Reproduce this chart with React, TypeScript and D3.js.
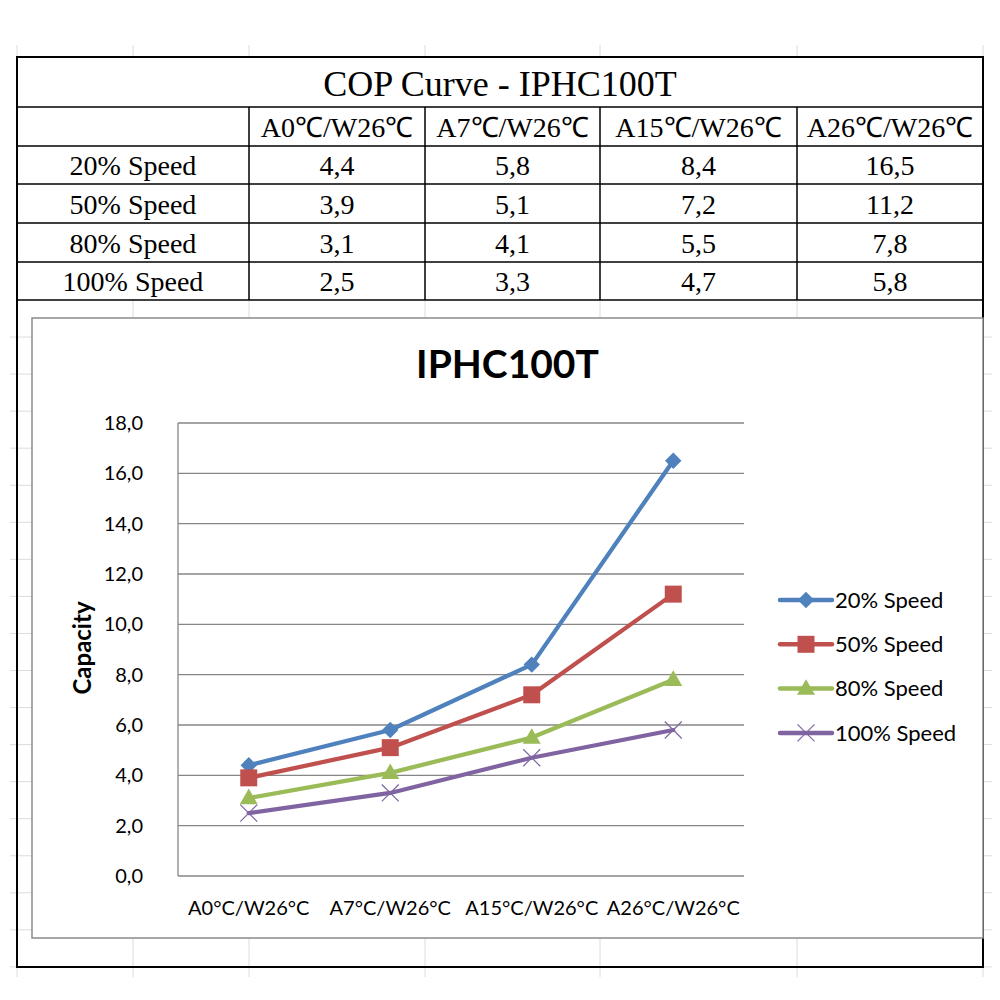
import React from 'react';
import * as d3 from 'd3';

const categories = ['A0°C/W26°C', 'A7°C/W26°C', 'A15°C/W26°C', 'A26°C/W26°C'];
const tableHeaders = ['A0℃/W26℃', 'A7℃/W26℃', 'A15℃/W26℃', 'A26℃/W26℃'];
const seriesNames = ['20% Speed', '50% Speed', '80% Speed', '100% Speed'];
const speed20 = [4.4, 5.8, 8.4, 16.5];
const speed50 = [3.9, 5.1, 7.2, 11.2];
const speed80 = [3.1, 4.1, 5.5, 7.8];
const speed100 = [2.5, 3.3, 4.7, 5.8];
const yTicks = [0, 2, 4, 6, 8, 10, 12, 14, 16, 18];

const seriesValues = [speed20, speed50, speed80, speed100];
const colors = ['#4F81BD', '#C0504D', '#9BBB59', '#8064A2'];
const markers = ['diamond', 'square', 'triangle', 'x'];

const fmt = (v: number) => v.toFixed(1).replace('.', ',');

// spreadsheet layout
const colX = [17, 249, 425, 600, 797, 983];
const rowY = [57, 107, 146, 184, 223, 262, 300];
const sheetCols = [17, 133, 249, 425, 600, 797, 983];
const sheetRows = d3.range(1, 19).map(k => 300 + k * 37.05);

const chartBox = { x: 32, y: 318, w: 951, h: 620 };
const plot = { left: 178, right: 744, top: 423, bottom: 876 };

const serif = "'Liberation Serif', 'Times New Roman', serif";
const sans = "Lato, 'Open Sans', sans-serif";

const Marker: React.FC<{ kind: string; color: string; x: number; y: number }> = ({ kind, color, x, y }) => {
  if (kind === 'diamond') {
    return <path d={d3.symbol(d3.symbolSquare, 135)()!} transform={`translate(${x},${y}) rotate(45)`} fill={color} />;
  }
  if (kind === 'square') {
    return <path d={d3.symbol(d3.symbolSquare, 289)()!} transform={`translate(${x},${y})`} fill={color} />;
  }
  if (kind === 'triangle') {
    return <path d={d3.symbol(d3.symbolTriangle, 140)()!} transform={`translate(${x},${y + 1})`} fill={color} />;
  }
  return <path d={d3.symbol(d3.symbolX, 190)()!} transform={`translate(${x},${y})`} fill="none" stroke={color} strokeWidth={1.2} />;
};

const App: React.FC = () => {
  const x = d3.scaleBand().domain(categories).range([plot.left, plot.right]);
  const y = d3.scaleLinear().domain([0, 18]).range([plot.bottom, plot.top]);
  const cx = (i: number) => x(categories[i])! + x.bandwidth() / 2;

  const line = d3.line<number>()
    .x((_, i) => cx(i))
    .y(d => y(d));

  return (
    <svg width={1000} height={1000} style={{ position: 'absolute', left: 0, top: 0, background: '#fff' }}>
      {/* faint sheet gridlines */}
      <g stroke="#dcdcdc" strokeWidth={1}>
        {sheetCols.map(c => <line key={'c' + c} x1={c} x2={c} y1={45} y2={977} />)}
        {sheetRows.map(r => <line key={'r' + r} x1={10} x2={992} y1={r} y2={r} />)}
      </g>

      {/* table */}
      <rect x={colX[0]} y={rowY[0]} width={colX[5] - colX[0]} height={rowY[6] - rowY[0]} fill="#fff" />
      <g stroke="#000" strokeWidth={1.5}>
        {rowY.slice(1).map(r => <line key={'h' + r} x1={colX[0]} x2={colX[5]} y1={r} y2={r} />)}
        {colX.slice(1, 5).map(c => <line key={'v' + c} x1={c} x2={c} y1={rowY[1]} y2={rowY[6]} />)}
      </g>
      <text x={(colX[0] + colX[5]) / 2} y={96} textAnchor="middle" fontFamily={serif} fontSize={36}>COP Curve - IPHC100T</text>
      <g fontFamily={serif} fontSize={28} textAnchor="middle">
        {tableHeaders.map((h, i) => (
          <text key={h} x={(colX[i + 1] + colX[i + 2]) / 2} y={137}>{h}</text>
        ))}
        {seriesNames.map((s, r) => (
          <g key={s}>
            <text x={(colX[0] + colX[1]) / 2} y={(rowY[r + 2] + rowY[r + 3]) / 2 + 10}>{s}</text>
            {seriesValues[r].map((v, i) => (
              <text key={i} x={(colX[i + 1] + colX[i + 2]) / 2} y={(rowY[r + 2] + rowY[r + 3]) / 2 + 10}>{fmt(v)}</text>
            ))}
          </g>
        ))}
      </g>
      <rect x={colX[0]} y={rowY[0]} width={colX[5] - colX[0]} height={967 - rowY[0]} fill="none" stroke="#000" strokeWidth={2} />

      {/* chart */}
      <rect x={chartBox.x} y={chartBox.y} width={chartBox.w} height={chartBox.h} fill="#fff" stroke="#8a8a8a" strokeWidth={1.5} />
      <text x={chartBox.x + chartBox.w / 2} y={378} textAnchor="middle" fontFamily={sans} fontWeight="bold" fontSize={39}>IPHC100T</text>

      <g stroke="#868686" strokeWidth={1.3}>
        {yTicks.map(t => <line key={t} x1={plot.left} x2={plot.right} y1={y(t)} y2={y(t)} />)}
        <line x1={plot.left} x2={plot.left} y1={plot.top} y2={plot.bottom} />
      </g>
      <g fontFamily={sans} fontSize={20} textAnchor="end">
        {yTicks.map(t => <text key={t} x={143} y={y(t)} dy="0.35em">{fmt(t)}</text>)}
      </g>
      <g fontFamily={sans} fontSize={20} textAnchor="middle">
        {categories.map((c, i) => <text key={c} x={cx(i)} y={915}>{c}</text>)}
      </g>
      <text transform="translate(83,648) rotate(-90)" textAnchor="middle" dy="0.35em" fontFamily={sans} fontWeight="bold" fontSize={24}>Capacity</text>

      {seriesValues.map((vals, s) => (
        <g key={s}>
          <path d={line(vals)!} fill="none" stroke={colors[s]} strokeWidth={4.25} strokeLinejoin="round" strokeLinecap="round" />
          {vals.map((v, i) => <Marker key={i} kind={markers[s]} color={colors[s]} x={cx(i)} y={y(v)} />)}
        </g>
      ))}

      {/* legend */}
      {seriesNames.map((n, s) => {
        const ly = 600 + s * 44.3;
        return (
          <g key={n}>
            <line x1={780} x2={832} y1={ly} y2={ly} stroke={colors[s]} strokeWidth={4.5} strokeLinecap="round" />
            <Marker kind={markers[s]} color={colors[s]} x={806} y={ly} />
            <text x={835} y={ly} dy="0.35em" fontFamily={sans} fontSize={22}>{n}</text>
          </g>
        );
      })}
    </svg>
  );
};

export default App;
